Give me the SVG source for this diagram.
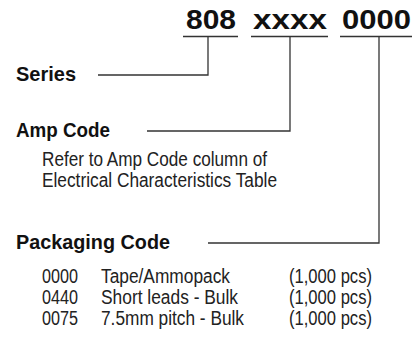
<svg xmlns="http://www.w3.org/2000/svg" width="417" height="339" viewBox="0 0 417 339">
<style>
.t{font-family:"Liberation Sans Narrow","Liberation Sans",Arial,sans-serif;fill:#111}
.h{font-weight:bold;font-size:28px}
.l{font-weight:bold;font-size:21px}
.b{font-size:19.5px;fill:#222}
.ln{stroke:#333;stroke-width:1.3;fill:none}
</style>
<rect width="417" height="339" fill="#fff"/>
<g id="code">
<text class="t h" x="186" y="29" textLength="50" lengthAdjust="spacingAndGlyphs">808</text>
<text class="t h" x="253" y="29" textLength="74" lengthAdjust="spacingAndGlyphs">xxxx</text>
<text class="t h" x="342" y="29" textLength="69" lengthAdjust="spacingAndGlyphs">0000</text>
</g>
<g id="series">
<text class="t l" x="16" y="81" textLength="60" lengthAdjust="spacingAndGlyphs">Series</text>
</g>
<g id="amp">
<text class="t l" x="16" y="137" textLength="94" lengthAdjust="spacingAndGlyphs">Amp Code</text>
<text class="t b" x="42" y="166" textLength="225" lengthAdjust="spacingAndGlyphs">Refer to Amp Code column of</text>
<text class="t b" x="42" y="187" textLength="235" lengthAdjust="spacingAndGlyphs">Electrical Characteristics Table</text>
</g>
<g id="packaging">
<text class="t l" x="16" y="249" textLength="154" lengthAdjust="spacingAndGlyphs">Packaging Code</text>
<text class="t b" x="42" y="283" textLength="36" lengthAdjust="spacingAndGlyphs">0000</text>
<text class="t b" x="101" y="283" textLength="129" lengthAdjust="spacingAndGlyphs">Tape/Ammopack</text>
<text class="t b" x="289" y="283" textLength="83" lengthAdjust="spacingAndGlyphs">(1,000 pcs)</text>
<text class="t b" x="42" y="304" textLength="36" lengthAdjust="spacingAndGlyphs">0440</text>
<text class="t b" x="101" y="304" textLength="137" lengthAdjust="spacingAndGlyphs">Short leads - Bulk</text>
<text class="t b" x="289" y="304" textLength="83" lengthAdjust="spacingAndGlyphs">(1,000 pcs)</text>
<text class="t b" x="42" y="325" textLength="36" lengthAdjust="spacingAndGlyphs">0075</text>
<text class="t b" x="101" y="325" textLength="143" lengthAdjust="spacingAndGlyphs">7.5mm pitch - Bulk</text>
<text class="t b" x="289" y="325" textLength="83" lengthAdjust="spacingAndGlyphs">(1,000 pcs)</text>
</g>
<g id="connectors">
<line class="ln" x1="183" y1="36.5" x2="238" y2="36.5"/>
<line class="ln" x1="251" y1="36.5" x2="328" y2="36.5"/>
<line class="ln" x1="340" y1="36.5" x2="412" y2="36.5"/>
<polyline class="ln" points="208,36.5 208,75 98,75"/>
<polyline class="ln" points="290,36.5 290,131 147,131"/>
<polyline class="ln" points="379,36.5 379,243 208,243"/>
</g>
</svg>
